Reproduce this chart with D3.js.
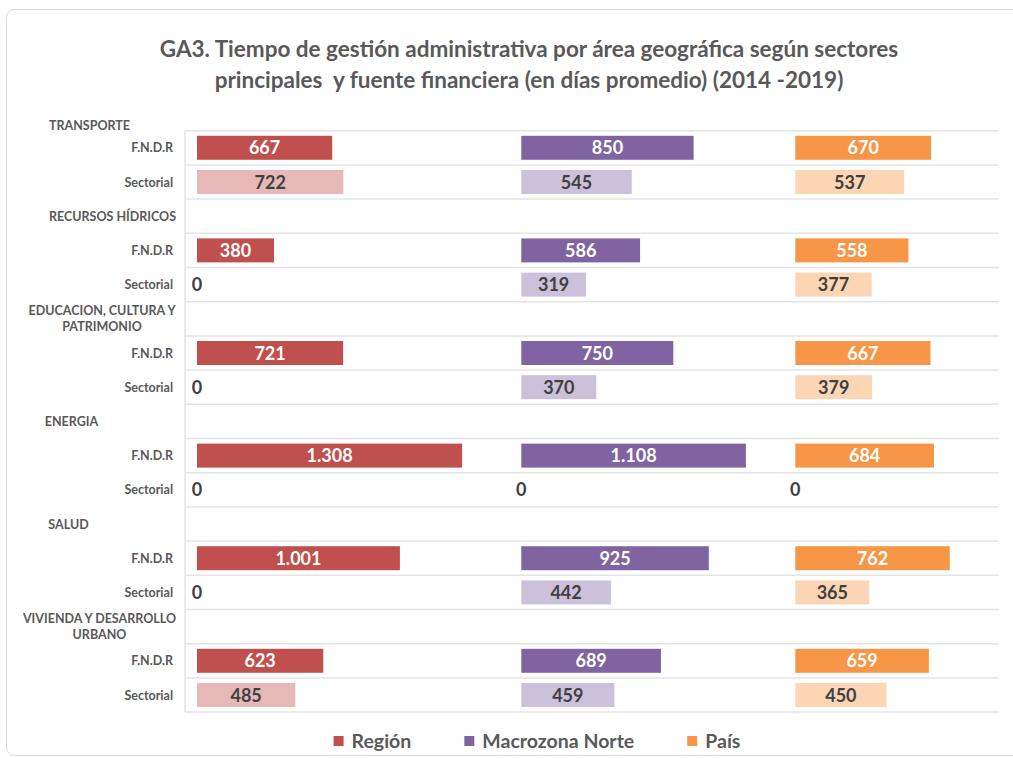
<!DOCTYPE html>
<html lang="es">
<head>
  <meta charset="UTF-8" />
  <title>GA3. Tiempo de gestión administrativa</title>
  <script src="https://d3js.org/d3.v7.min.js"></script>
  <style>
    body { margin: 0; background: #fff; font-family: Lato, "Open Sans", sans-serif; }
    text { font-family: Lato, "Open Sans", sans-serif; font-weight: bold; }
    .cat { font-size: 12.5px; fill: #595959; }
    .val { font-size: 18px; }
  </style>
</head>
<body>
<svg width="1013" height="758"></svg>
<script>
  // datos
  const groups = ["TRANSPORTE", "RECURSOS HÍDRICOS", "EDUCACION, CULTURA Y PATRIMONIO",
                  "ENERGIA", "SALUD", "VIVIENDA Y DESARROLLO URBANO"];
  const sources = ["F.N.D.R", "Sectorial"];
  const series = ["Región", "Macrozona Norte", "País"];

  const regionFndr = [667, 380, 721, 1308, 1001, 623];
  const regionSect = [722, 0, 0, 0, 0, 485];
  const macroFndr  = [850, 586, 750, 1108, 925, 689];
  const macroSect  = [545, 319, 370, 0, 442, 459];
  const paisFndr   = [670, 558, 667, 684, 762, 659];
  const paisSect   = [537, 377, 379, 0, 365, 450];

  const dark  = ["#c0504d", "#8064a2", "#f79646"];
  const light = ["#e6b9b8", "#ccc1da", "#fcd5b5"];

  const svg = d3.select("svg");
  const fmt = d3.formatLocale({ decimal: ",", thousands: ".", grouping: [3], currency: ["$", ""] }).format(",d");

  // marco
  svg.append("rect")
    .attr("x", 6.5).attr("y", 9.5).attr("width", 1030).attr("height", 746).attr("rx", 8)
    .attr("fill", "#fff").attr("stroke", "#d9d9d9");

  // título
  const title = svg.append("text").attr("text-anchor", "middle").attr("fill", "#595959")
    .style("font-size", "22.5px").style("white-space", "pre");
  title.append("tspan").attr("x", 529).attr("y", 57)
    .text("GA3. Tiempo de gestión administrativa por área geográfica según sectores");
  title.append("tspan").attr("x", 529).attr("y", 88)
    .text("principales  y fuente financiera (en días promedio) (2014 -2019)");

  // filas: cabecera de grupo (excepto el primero), F.N.D.R, Sectorial
  const rows = [];
  groups.forEach((g, i) => {
    if (i > 0) rows.push({ key: "h" + i, type: "head", gi: i });
    sources.forEach((s, j) => rows.push({ key: i + "-" + j, type: "src", gi: i, si: j }));
  });

  const plotLeft = 185, plotRight = 999, plotTop = 130.7, plotBottom = 712.1;
  const y = d3.scaleBand().domain(rows.map(r => r.key)).range([plotTop, plotBottom]);

  const values = [[regionFndr, regionSect], [macroFndr, macroSect], [paisFndr, paisSect]];
  const panelStart = [197, 521.3, 795.3];
  const k = 0.2027;
  const xs = panelStart.map(s => d3.scaleLinear().domain([0, 1000]).range([s, s + 1000 * k]));

  // rejilla
  const lines = [plotTop].concat(rows.map(r => y(r.key) + y.bandwidth()));
  svg.append("g").selectAll("line").data(lines).enter().append("line")
    .attr("x1", plotLeft).attr("x2", plotRight)
    .attr("y1", d => d).attr("y2", d => d)
    .attr("stroke", "#e4e4e4").attr("stroke-width", 1.5);
  svg.append("line").attr("x1", plotLeft).attr("x2", plotLeft)
    .attr("y1", plotTop).attr("y2", plotBottom)
    .attr("stroke", "#e4e4e4").attr("stroke-width", 1.5);

  // barras
  const barH = 24;
  const srcRows = rows.filter(r => r.type === "src");
  series.forEach((s, p) => {
    const g = svg.append("g");
    const x = xs[p];
    const bars = srcRows.map(r => ({ r, v: values[p][r.si][r.gi] }));
    g.selectAll("rect").data(bars.filter(d => d.v > 0)).enter().append("rect")
      .attr("x", x(0))
      .attr("y", d => y(d.r.key) + (y.bandwidth() - barH) / 2)
      .attr("width", d => x(d.v) - x(0))
      .attr("height", barH)
      .attr("fill", d => d.r.si === 0 ? dark[p] : light[p]);
    g.selectAll("text").data(bars).enter().append("text")
      .attr("class", "val")
      .attr("x", d => x(d.v / 2))
      .attr("y", d => y(d.r.key) + y.bandwidth() / 2 + 6.5)
      .attr("text-anchor", "middle")
      .attr("fill", d => d.r.si === 0 && d.v > 0 ? "#fff" : "#404040")
      .text(d => fmt(d.v));
  });

  // etiquetas del eje
  svg.append("g").selectAll("text").data(srcRows).enter().append("text")
    .attr("class", "cat")
    .attr("x", 173)
    .attr("y", d => y(d.key) + y.bandwidth() / 2 + 4.5)
    .attr("text-anchor", "end")
    .text(d => sources[d.si]);

  const groupX = [89.5, 112.5, 102, 71.5, 68.5, 99.5];
  groups.forEach((name, i) => {
    const cy = i === 0 ? 125 : y("h" + i) + y.bandwidth() / 2;
    const t = svg.append("text").attr("class", "cat").attr("text-anchor", "middle");
    // ajuste de línea
    const words = name.split(" ");
    const linesTxt = [];
    let cur = [];
    const probe = svg.append("text").attr("class", "cat");
    words.forEach(w => {
      probe.text(cur.concat(w).join(" "));
      if (cur.length && probe.node().getComputedTextLength() > 160) {
        linesTxt.push(cur.join(" "));
        cur = [w];
      } else cur.push(w);
    });
    linesTxt.push(cur.join(" "));
    probe.remove();
    const lh = 16;
    linesTxt.forEach((l, j) => {
      t.append("tspan").attr("x", groupX[i])
        .attr("y", cy + 4.5 + (j - (linesTxt.length - 1) / 2) * lh)
        .text(l);
    });
  });

  // leyenda
  const legend = svg.append("g");
  let lx = 0;
  series.forEach((s, i) => {
    const item = legend.append("g").attr("transform", `translate(${lx},0)`);
    item.append("rect").attr("x", 0).attr("y", 736).attr("width", 10).attr("height", 10)
      .attr("fill", dark[i]);
    const tx = item.append("text").attr("x", 18).attr("y", 748)
      .attr("fill", "#595959").style("font-size", "19.5px").text(s);
    lx += 18 + tx.node().getComputedTextLength() + 53;
  });
  const lw = lx - 53;
  legend.attr("transform", `translate(${537 - lw / 2},0)`);
</script>
</body>
</html>
